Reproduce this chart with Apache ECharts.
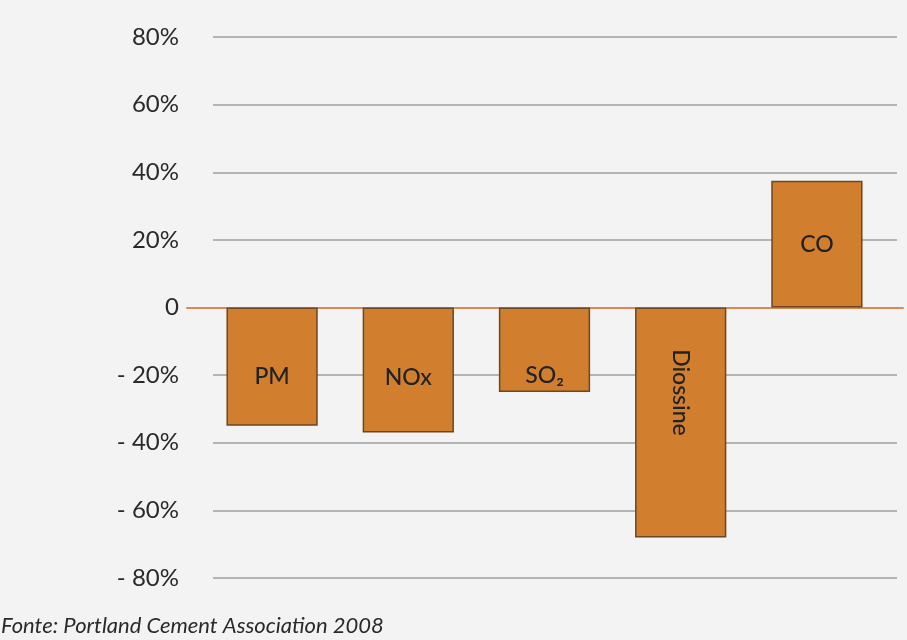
<!DOCTYPE html>
<html>
<head>
<meta charset="utf-8">
<script src="https://cdn.jsdelivr.net/npm/echarts@6/dist/echarts.min.js"></script>
<style>
html,body{margin:0;padding:0;background:#f3f3f3;}
#chart{width:907px;height:640px;}
</style>
</head>
<body>
<div id="chart"></div>
<script>
// Data
const categories = ['PM', 'NOx', 'SO₂', 'Diossine', 'CO'];
const values = [-35, -37, -25, -68, 37.5];
const tickValues = [80, 60, 40, 20, 0, -20, -40, -60, -80];
const tickLabels = ['80%', '60%', '40%', '20%', '0', '- 20%', '- 40%', '- 60%', '- 80%'];
const sourceText = 'Fonte: Portland Cement Association 2008';

const Y_MIN = -80, Y_MAX = 80, Y_STEP = 20;
const TOP = 37, HEIGHT = 541;

const labelStyleFor = function (i) {
  const base = {
    show: true,
    position: 'inside',
    formatter: categories[i],
    color: '#222',
    fontFamily: 'Lato, "DejaVu Sans", sans-serif',
    fontWeight: 500,
    fontSize: 23
  };
  const offsets = [[0, 10], [0, 8], [0, 26], [-30, 0], [0, 0]];
  base.offset = offsets[i];
  if (categories[i] === 'Diossine') {
    base.rotate = -90;
  }
  return base;
};

const chart = echarts.init(document.getElementById('chart'));
const hiddenY = (g) => ({
  type: 'value', gridIndex: g, min: Y_MIN, max: Y_MAX, interval: Y_STEP,
  axisLabel: { show: false }, axisLine: { show: false }, axisTick: { show: false }, splitLine: { show: false }
});

chart.setOption({
  backgroundColor: '#f3f3f3',
  animation: false,
  grid: [
    { left: 213, right: 10, top: TOP, height: HEIGHT },
    { left: 187, right: 4, top: TOP, height: HEIGHT },
    { left: 204, right: 22, top: TOP, height: HEIGHT }
  ],
  xAxis: [
    { type: 'category', gridIndex: 0, data: categories, show: false },
    { type: 'category', gridIndex: 1, data: categories,
      axisLine: { show: true, onZero: true, lineStyle: { color: '#d98a52', width: 2 } },
      axisTick: { show: false }, axisLabel: { show: false }, splitLine: { show: false } },
    { type: 'category', gridIndex: 2, data: categories, show: false }
  ],
  yAxis: [
    {
      type: 'value', gridIndex: 0, min: Y_MIN, max: Y_MAX, interval: Y_STEP,
      axisLine: { show: false }, axisTick: { show: false },
      axisLabel: {
        margin: 34,
        color: '#2a2a2a',
        fontFamily: 'Lato, "DejaVu Sans", sans-serif',
        fontSize: 24,
        formatter: function (v) {
          const idx = tickValues.indexOf(v);
          return idx >= 0 ? tickLabels[idx] : '';
        }
      },
      splitLine: { lineStyle: { color: '#b4b4b4', width: 2 } }
    },
    hiddenY(1),
    hiddenY(2)
  ],
  series: [
    {
      type: 'bar',
      xAxisIndex: 2, yAxisIndex: 2,
      barWidth: '67%',
      z: 5,
      data: values.map((v, i) => ({ value: v, label: labelStyleFor(i) })),
      itemStyle: { color: '#d17f2f', borderColor: '#6b4722', borderWidth: 1.5 }
    }
  ],
  graphic: [
    {
      type: 'text', left: 1, top: 615,
      style: {
        text: sourceText,
        fill: '#2a2a2a',
        font: 'italic 22px Lato, "DejaVu Sans", sans-serif'
      }
    }
  ]
});
</script>
</body>
</html>
